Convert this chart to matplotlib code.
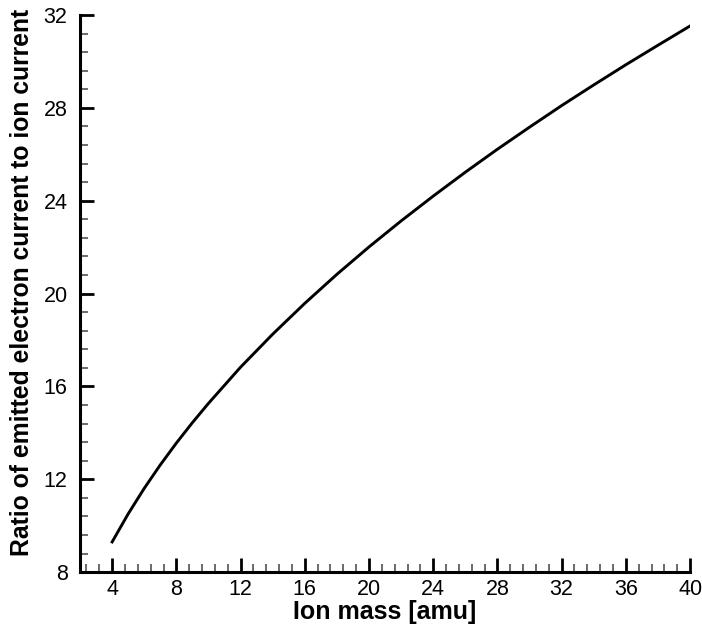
import matplotlib.pyplot as plt
from matplotlib.ticker import MultipleLocator

plt.rcParams['font.family'] = ['Liberation Sans', 'DejaVu Sans']

# ion mass [amu] and ratio of emitted electron current to ion current
ion_mass = [4, 5, 6, 7, 8, 9, 10, 12, 14, 16, 18, 20, 22, 24, 26, 28, 30, 32, 34, 36, 38, 40]
current_ratio = [9.30, 10.51, 11.61, 12.62, 13.56, 14.44, 15.27, 16.83, 18.25, 19.58, 20.83,
                 22.01, 23.13, 24.20, 25.23, 26.22, 27.17, 28.10, 28.99, 29.86, 30.70, 31.53]

fig = plt.figure(figsize=(7.02, 6.28), dpi=100)
ax = fig.add_axes([0.114, 0.089, 0.869, 0.887])

ax.plot(ion_mass, current_ratio, color='black', linewidth=2.1)

ax.set_xlim(2, 40)
ax.set_ylim(8, 32)
ax.xaxis.set_major_locator(MultipleLocator(4))
ax.xaxis.set_minor_locator(MultipleLocator(0.8))
ax.yaxis.set_major_locator(MultipleLocator(4))
ax.yaxis.set_minor_locator(MultipleLocator(0.8))

for side in ('top', 'right'):
    ax.spines[side].set_visible(False)
for side in ('left', 'bottom'):
    ax.spines[side].set_linewidth(2.2)

ax.tick_params(which='major', direction='in', length=10, width=2, labelsize=15.5, color='black')
ax.tick_params(which='minor', direction='in', length=6, width=1.1, color='#444444')
ax.tick_params(axis='x', which='major', pad=5)
ax.tick_params(axis='y', which='major', pad=9)

ax.set_xlabel('Ion mass [amu]', fontsize=18, fontweight='bold', labelpad=0)
ax.set_ylabel('Ratio of emitted electron current to ion current', fontsize=17.8,
              fontweight='bold', labelpad=7)
ax.yaxis.label.set_y(0.52)

fig.savefig('out.png', dpi=100)
